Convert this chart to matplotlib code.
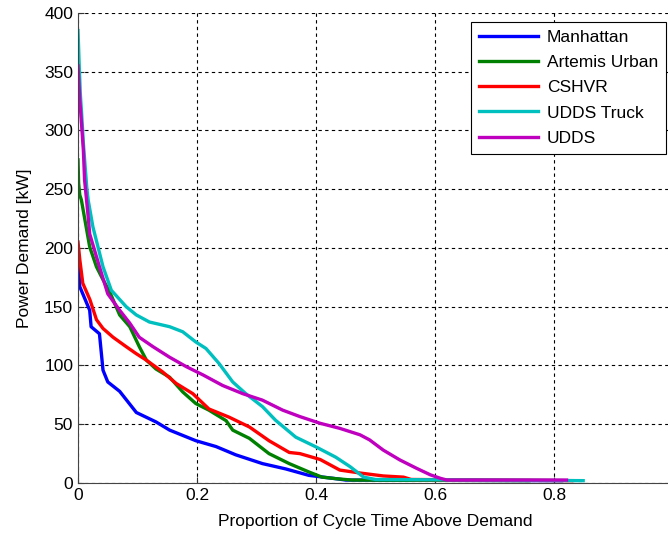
import matplotlib.pyplot as plt

plt.rcParams['font.family'] = ['Liberation Sans', 'DejaVu Sans']

labels = ['Manhattan', 'Artemis Urban', 'CSHVR', 'UDDS Truck', 'UDDS']
colors = ['#0000ff', '#008000', '#ff0000', '#00bfbf', '#bf00bf']

manhattan_x = [0, 0.002, 0.003, 0.0196, 0.022, 0.036, 0.042, 0.05, 0.07, 0.098, 0.131, 0.154,
               0.198, 0.232, 0.265, 0.31, 0.349, 0.388, 0.433, 0.45, 0.813]
manhattan_y = [190, 175, 167, 147, 133, 127, 96, 86, 78, 60, 52, 45,
               36, 31, 24, 16.5, 12, 6.5, 3.7, 2.5, 2]

artemis_x = [0, 0.001, 0.003, 0.0056, 0.0196, 0.031, 0.042, 0.053, 0.064, 0.07, 0.087, 0.103,
             0.115, 0.131, 0.154, 0.176, 0.198, 0.22, 0.249, 0.26, 0.288, 0.321, 0.355,
             0.388, 0.41, 0.433, 0.46, 0.758]
artemis_y = [275, 255, 245, 241, 201, 184, 173, 163, 150, 143, 133, 116,
             104.5, 97, 90, 77.5, 67.6, 62, 53, 45, 38, 25, 16.5,
             9.4, 5, 3.7, 2.5, 2]

cshvr_x = [0, 0.003, 0.008, 0.02, 0.031, 0.042, 0.059, 0.081, 0.098, 0.115, 0.142, 0.165,
           0.193, 0.22, 0.254, 0.288, 0.321, 0.355, 0.373, 0.407, 0.44, 0.474, 0.513,
           0.547, 0.56, 0.83]
cshvr_y = [205, 190, 170, 156, 139, 131.5, 124, 116, 110, 104.5, 94.6, 84.7,
           76, 63, 56, 47.7, 36, 26, 25, 20, 11, 8.5, 6,
           5, 3, 2]

truck_x = [0, 0.002, 0.004, 0.006, 0.009, 0.0146, 0.017, 0.025, 0.042, 0.056, 0.081, 0.098,
           0.12, 0.154, 0.176, 0.198, 0.215, 0.237, 0.26, 0.282, 0.31, 0.332, 0.366,
           0.4, 0.433, 0.457, 0.48, 0.5, 0.849]
truck_y = [385, 355, 330, 315, 289, 252, 241, 218, 184, 164, 150, 143,
           137, 133, 128.7, 120, 114.5, 101.7, 86, 76, 65, 53.4, 39,
           30.7, 22, 14, 5, 3, 2]

udds_x = [0, 0.003, 0.006, 0.009, 0.011, 0.017, 0.0196, 0.036, 0.05, 0.07, 0.087, 0.103,
          0.126, 0.154, 0.182, 0.21, 0.243, 0.277, 0.31, 0.344, 0.373, 0.407, 0.44,
          0.474, 0.49, 0.513, 0.541, 0.569, 0.592, 0.609, 0.62, 0.821]
udds_y = [355, 326, 305, 283, 258, 227, 212, 184, 161, 147, 136, 124,
          116, 107, 99, 92, 83, 76, 70.5, 62, 56.5, 50.8, 46.5,
          41, 36.7, 28, 19.6, 12.5, 7, 4, 2.5, 2.5]

series = [(manhattan_x, manhattan_y), (artemis_x, artemis_y), (cshvr_x, cshvr_y),
          (truck_x, truck_y), (udds_x, udds_y)]

fig = plt.figure(figsize=(6.68, 5.34), dpi=100)
ax = fig.add_axes([0.1168, 0.0955, 0.8907, 0.8802])

for (xs, ys), lab, c in zip(series, labels, colors):
    ax.plot(xs, ys, color=c, lw=2.4, label=lab)

ax.set_xlim(0, 1)
ax.set_ylim(0, 400)
ax.set_xticks([0, 0.2, 0.4, 0.6, 0.8, 1.0])
ax.set_xticklabels(['0', '0.2', '0.4', '0.6', '0.8', ''])
ax.set_yticks(range(0, 401, 50))
ax.grid(True, color='black', linestyle=(0, (3, 3)), lw=0.8)
ax.tick_params(direction='in', length=4, labelsize=12.5, colors='#333333', labelcolor='black')
ax.spines['top'].set_visible(False)
for s in ['left', 'bottom']:
    ax.spines[s].set_color('#444444')
ax.set_xlabel('Proportion of Cycle Time Above Demand', fontsize=12.5, labelpad=8)
ax.set_ylabel('Power Demand [kW]', fontsize=12.5, labelpad=9)

leg = ax.legend(loc='upper right', bbox_to_anchor=(0.988, 0.981), borderaxespad=0,
                fontsize=12.5, fancybox=False, framealpha=1, edgecolor='black',
                handlelength=3.4, handletextpad=0.5, labelspacing=0.58, borderpad=0.45)
leg.get_frame().set_linewidth(0.8)

fig.savefig('out.png', dpi=100)
